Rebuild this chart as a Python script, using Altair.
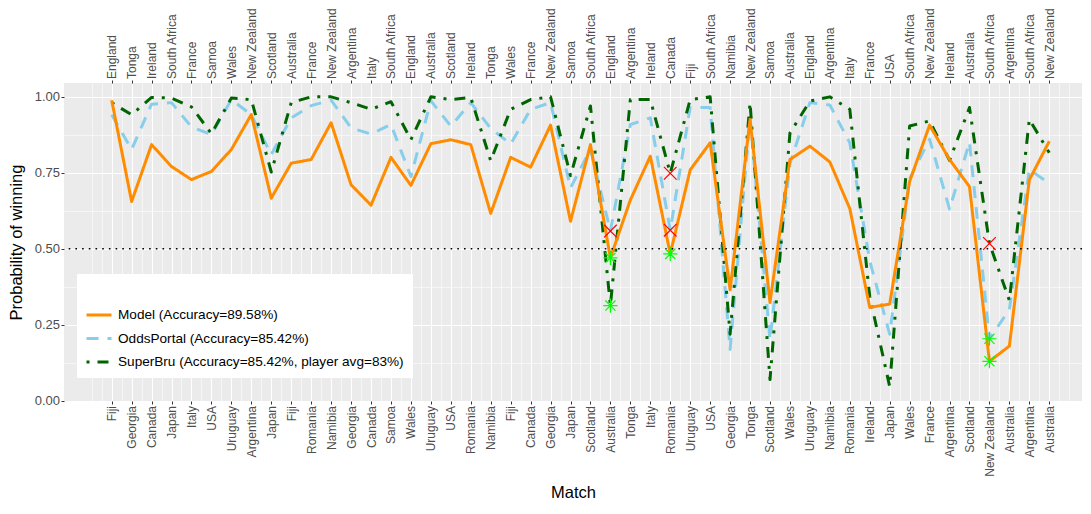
import json
import pandas as pd
import altair as alt

# ---------------- data ----------------
home = ["England", "Tonga", "Ireland", "South Africa", "France", "Samoa", "Wales", "New Zealand",
        "Scotland", "Australia", "France", "New Zealand", "Argentina", "Italy", "South Africa", "England",
        "Australia", "Scotland", "Ireland", "Tonga", "Wales", "France", "New Zealand", "Samoa",
        "South Africa", "England", "Argentina", "Ireland", "Canada", "Fiji", "South Africa", "Namibia",
        "New Zealand", "Samoa", "Australia", "England", "Argentina", "Italy", "France", "USA",
        "South Africa", "New Zealand", "Ireland", "Australia", "South Africa", "Argentina", "South Africa", "New Zealand"]
away = ["Fiji", "Georgia", "Canada", "Japan", "Italy", "USA", "Uruguay", "Argentina",
        "Japan", "Fiji", "Romania", "Namibia", "Georgia", "Canada", "Samoa", "Wales",
        "Uruguay", "USA", "Romania", "Namibia", "Fiji", "Canada", "Georgia", "Japan",
        "Scotland", "Australia", "Tonga", "Italy", "Romania", "Uruguay", "USA", "Georgia",
        "Tonga", "Scotland", "Wales", "Uruguay", "Namibia", "Romania", "Ireland", "Japan",
        "Wales", "France", "Argentina", "Scotland", "New Zealand", "Australia", "Argentina", "Australia"]

model = [0.988, 0.655, 0.842, 0.770, 0.727, 0.754, 0.826, 0.941, 0.666, 0.781, 0.793, 0.914,
         0.710, 0.643, 0.800, 0.708, 0.845, 0.858, 0.842, 0.616, 0.800, 0.768, 0.906, 0.590,
         0.842, 0.470, 0.660, 0.804, 0.483, 0.759, 0.848, 0.365, 0.925, 0.323, 0.793, 0.837,
         0.785, 0.632, 0.307, 0.318, 0.721, 0.906, 0.793, 0.704, 0.130, 0.180, 0.726, 0.853]
oddsportal = [0.940, 0.826, 0.975, 0.980, 0.900, 0.875, 0.990, 0.940, 0.809, 0.930, 0.970, 0.988,
              0.897, 0.877, 0.908, 0.737, 0.986, 0.903, 0.980, 0.895, 0.844, 0.958, 0.980, 0.700,
              0.826, 0.558, 0.908, 0.930, 0.561, 0.964, 0.964, 0.169, 0.930, 0.200, 0.780, 0.980,
              0.972, 0.848, 0.460, 0.219, 0.730, 0.860, 0.630, 0.850, 0.204, 0.300, 0.760, 0.715]
superbru = [0.980, 0.940, 0.997, 0.995, 0.966, 0.878, 0.995, 0.990, 0.752, 0.980, 0.999, 0.999,
            0.980, 0.958, 0.983, 0.858, 0.999, 0.990, 0.997, 0.789, 0.958, 0.990, 0.999, 0.740,
            0.969, 0.313, 0.990, 0.990, 0.748, 0.990, 0.999, 0.219, 0.980, 0.070, 0.880, 0.985,
            0.999, 0.958, 0.343, 0.047, 0.903, 0.920, 0.790, 0.964, 0.517, 0.330, 0.925, 0.815]

series_names = ["Model (Accuracy=89.58%)",
                "OddsPortal (Accuracy=85.42%)",
                "SuperBru (Accuracy=85.42%, player avg=83%)"]
series_colors = ["#FF8C00", "#87CEEB", "#006400"]
series_dashes = [[1, 0], [12, 9], [3, 8, 11, 8]]
disputed_matches = [26, 29, 45]
threshold = [0.5]

n = len(home)
df = pd.DataFrame({
    "match": list(range(1, n + 1)) * 3,
    "series": [s for s in series_names for _ in range(n)],
    "p": model + oddsportal + superbru,
})
marks = df[df["match"].isin(disputed_matches)].copy()

# ---------------- styling ----------------
FONT = "Liberation Sans"
X_DOMAIN = [-1.39, 49.64]
Y_DOMAIN = [-0.0005, 1.0445]

xscale = alt.Scale(domain=X_DOMAIN, nice=False, zero=False)
yscale = alt.Scale(domain=Y_DOMAIN, nice=False, zero=False)

is_major_x = f"datum.value % 1 === 0 && datum.value >= 1 && datum.value <= {n}"
x_values = [i / 2 for i in range(0, 99)]

x_bottom = alt.X(
    "match:Q", scale=xscale,
    axis=alt.Axis(
        orient="bottom", values=x_values, title="Match",
        labelExpr=f"{is_major_x} ? {json.dumps(away)}[datum.value - 1] : ''",
        labelAngle=270, labelAlign="right", labelBaseline="middle",
        labelOverlap=False, labelFlush=False, labelBound=False,
        grid=True,
        gridWidth={"condition": {"test": is_major_x, "value": 1.1}, "value": 0.55},
        tickOpacity={"condition": {"test": is_major_x, "value": 1}, "value": 0},
        titleX=509, titleY=91, titleBaseline="middle", titleAlign="center",
    ),
)
x_top = alt.X(
    "match:Q", scale=xscale,
    axis=alt.Axis(
        orient="top", values=list(range(1, n + 1)), title=None,
        labelExpr=f"{json.dumps(home)}[datum.value - 1]",
        labelAngle=270, labelAlign="left", labelBaseline="middle",
        labelOverlap=False, labelFlush=False, labelBound=False, grid=False,
    ),
)
x_none = alt.X("match:Q", scale=xscale, axis=None)

is_major_y = "abs(datum.value * 4 - round(datum.value * 4)) < 1e-6"
y_enc = alt.Y(
    "p:Q", scale=yscale,
    axis=alt.Axis(
        values=[i / 8 for i in range(0, 9)], title="Probability of winning",
        labelExpr=f"{is_major_y} ? format(datum.value, '.2f') : ''",
        labelFontSize=13, labelOverlap=False, labelFlush=False,
        grid=True,
        gridWidth={"condition": {"test": is_major_y, "value": 1.1}, "value": 0.55},
        tickOpacity={"condition": {"test": is_major_y, "value": 1}, "value": 0},
        titleAngle=270, titleX=-48, titleY=159, titleBaseline="middle", titleAlign="center",
    ),
)

color_enc = alt.Color("series:N", scale=alt.Scale(domain=series_names, range=series_colors),
                      legend=alt.Legend(title=" ", orient="none", legendX=13, legendY=191))
dash_enc = alt.StrokeDash("series:N", scale=alt.Scale(domain=series_names, range=series_dashes),
                          legend=alt.Legend(title=" ", orient="none", legendX=13, legendY=191))

base = alt.Chart(df)


def line_layer(name, x_enc):
    return base.transform_filter(alt.datum.series == name).mark_line(
        strokeWidth=3, strokeJoin="round", strokeCap="butt"
    ).encode(x=x_enc, y=y_enc, color=color_enc, strokeDash=dash_enc)


odds_line = line_layer(series_names[1], x_bottom)
bru_line = line_layer(series_names[2], x_none)
model_line = line_layer(series_names[0], x_none)

ref = alt.Chart(pd.DataFrame({"p": threshold})).mark_rule(
    color="black", strokeDash=[1.6, 5.1], strokeWidth=1.6
).encode(y=y_enc)

X_PATH = "M-1,-1L1,1M-1,1L1,-1"
STAR_PATH = "M-1,0L1,0M0,-1L0,1M-0.72,-0.72L0.72,0.72M-0.72,0.72L0.72,-0.72"

wrong_pts = alt.Chart(marks).transform_filter(alt.datum.p > 0.5).mark_point(
    shape=X_PATH, filled=False, size=160, strokeWidth=1.2, color="#FF0000", opacity=1
).encode(x=x_top, y=y_enc)
right_pts = alt.Chart(marks).transform_filter(alt.datum.p < 0.5).mark_point(
    shape=STAR_PATH, filled=False, size=200, strokeWidth=1.2, color="#00FF00", opacity=1
).encode(x=x_none, y=y_enc)

chart = alt.layer(odds_line, bru_line, model_line, ref, wrong_pts, right_pts).resolve_axis(
    x="independent"
).properties(
    width=1018, height=318,
    autosize=alt.AutoSizeParams(type="none"),
    padding={"left": 56, "top": 75, "right": 0, "bottom": 103},
).configure_view(
    fill="#EBEBEB", strokeWidth=0
).configure_axis(
    labelFont=FONT, titleFont=FONT, labelColor="#4D4D4D", labelFontSize=12,
    tickColor="#333333", tickSize=3, tickWidth=1, labelPadding=1.5, domain=False,
    gridColor="#FFFFFF", titleFontWeight="normal", titleColor="#000000", titleFontSize=16.5,
).configure_legend(
    fillColor="#FFFFFF", padding=8, labelFont=FONT, labelFontSize=13.6, labelColor="#000000",
    titleFont=FONT, titleFontSize=14, titlePadding=5, symbolStrokeWidth=3, symbolSize=625,
    symbolType="stroke", rowPadding=2.5, labelOffset=5, strokeColor="#FFFFFF", labelLimit=400,
)

chart.save("out.html", embed_options={"renderer": "svg", "actions": False})
